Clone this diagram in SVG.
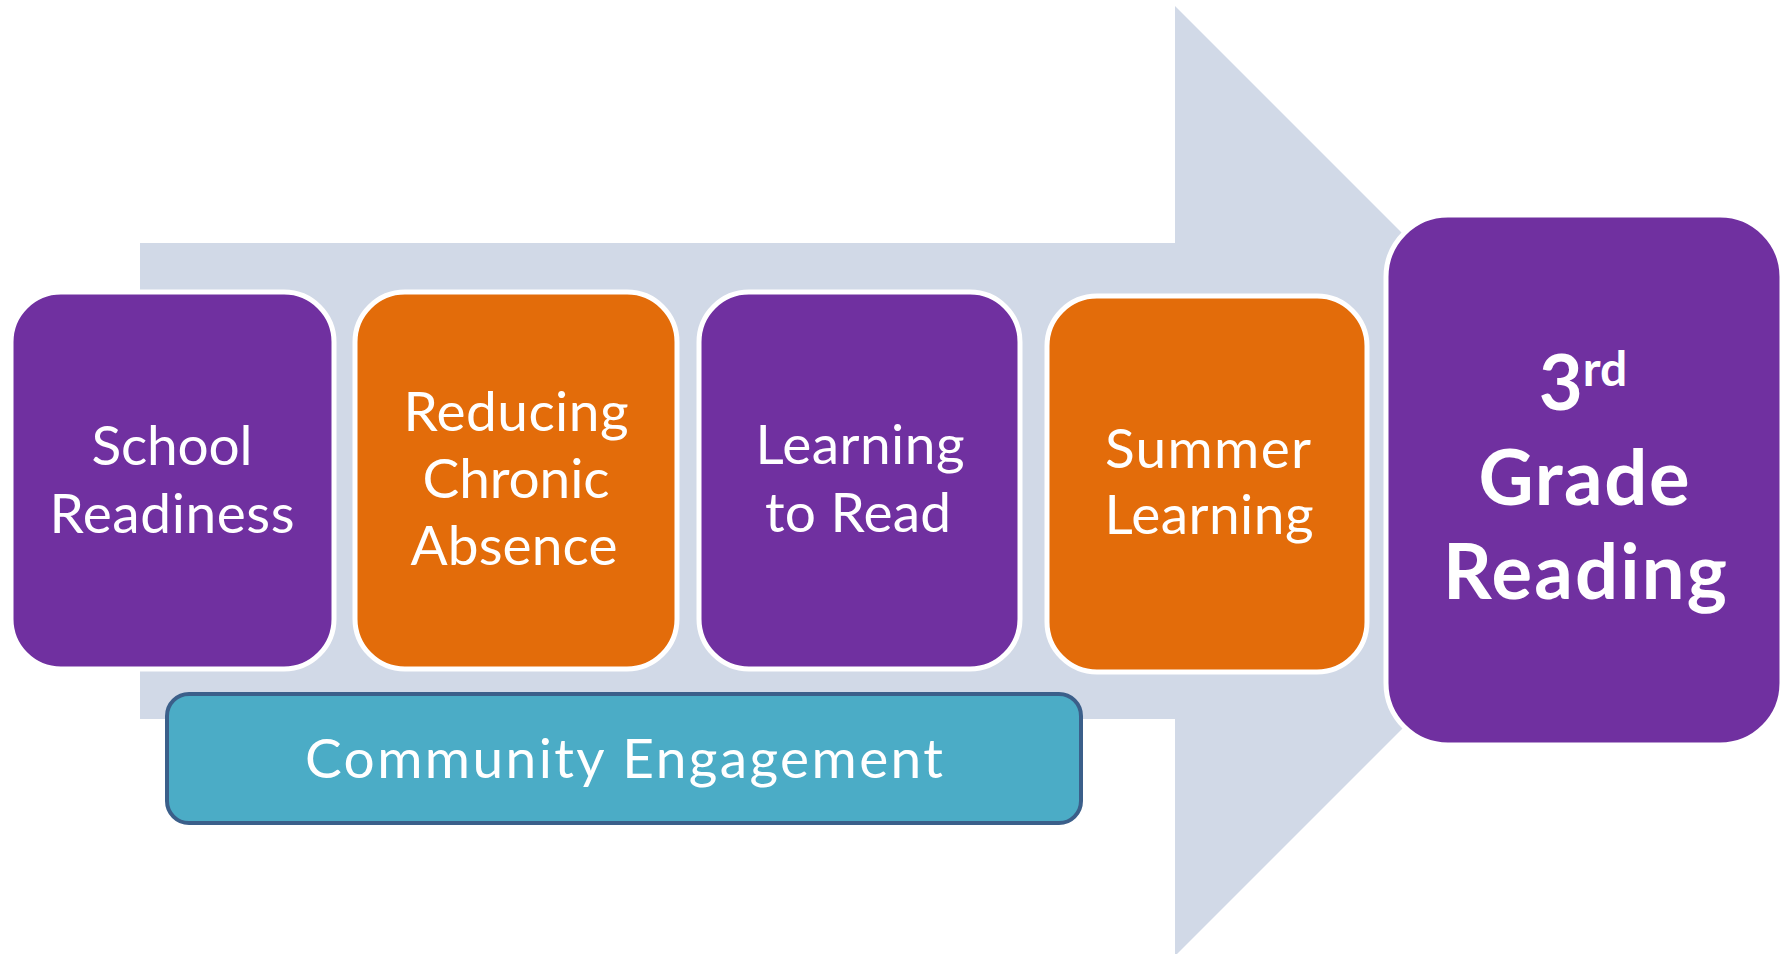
<svg xmlns="http://www.w3.org/2000/svg" width="1789" height="954" viewBox="0 0 1789 954">
<style>
.box{stroke:#FFFFFF;stroke-width:5}
.purple{fill:#7030A0}
.orange{fill:#E36C0A}
.lbl{font-family:Lato,"Open Sans","Liberation Sans",sans-serif;font-size:55px;fill:#FFFFFF;text-anchor:middle}
.bold{font-weight:bold;font-size:76px}
</style>
<rect width="1789" height="954" fill="#FFFFFF"/>
<g id="arrow">
<polygon points="140,243 1175,243 1175,6 1650,481 1175,956 1175,719 140,719" fill="#D1D9E7"/>
</g>
<g id="connectors"></g>
<g id="school-readiness">
<rect class="box purple" x="11" y="292" width="323" height="377" rx="50" ry="50"/>
<text class="lbl"><tspan x="172" y="465" textLength="161" lengthAdjust="spacing">School</tspan><tspan x="172" y="533" textLength="245" lengthAdjust="spacing">Readiness</tspan></text>
</g>
<g id="chronic-absence">
<rect class="box orange" x="355" y="292" width="322" height="377" rx="50" ry="50"/>
<text class="lbl"><tspan x="516" y="431" textLength="225" lengthAdjust="spacing">Reducing</tspan><tspan x="516" y="498" textLength="187" lengthAdjust="spacing">Chronic</tspan><tspan x="514" y="565" textLength="207" lengthAdjust="spacing">Absence</tspan></text>
</g>
<g id="learning-to-read">
<rect class="box purple" x="699" y="292" width="321" height="377" rx="50" ry="50"/>
<text class="lbl"><tspan x="860" y="464" textLength="209" lengthAdjust="spacing">Learning</tspan><tspan x="858" y="532" textLength="186" lengthAdjust="spacing">to Read</tspan></text>
</g>
<g id="summer-learning">
<rect class="box orange" x="1047" y="296" width="320" height="376" rx="50" ry="50"/>
<text class="lbl"><tspan x="1208" y="468" textLength="206" lengthAdjust="spacing">Summer</tspan><tspan x="1209" y="534" textLength="209" lengthAdjust="spacing">Learning</tspan></text>
</g>
<g id="third-grade-reading">
<rect class="box purple" x="1386" y="215" width="396" height="530" rx="62" ry="62"/>
<text class="lbl bold" x="1583" y="410">3<tspan font-size="48" dy="-24">rd</tspan></text>
<text class="lbl bold"><tspan x="1584" y="505" textLength="211" lengthAdjust="spacing">Grade</tspan><tspan x="1585" y="599" textLength="284" lengthAdjust="spacing">Reading</tspan></text>
</g>
<g id="community-engagement">
<rect x="167" y="694" width="914" height="129" rx="22" ry="22" fill="#4BACC6" stroke="#3B5F8A" stroke-width="4"/>
<text class="lbl" x="624" y="778" textLength="638" lengthAdjust="spacing">Community Engagement</text>
</g>
</svg>
